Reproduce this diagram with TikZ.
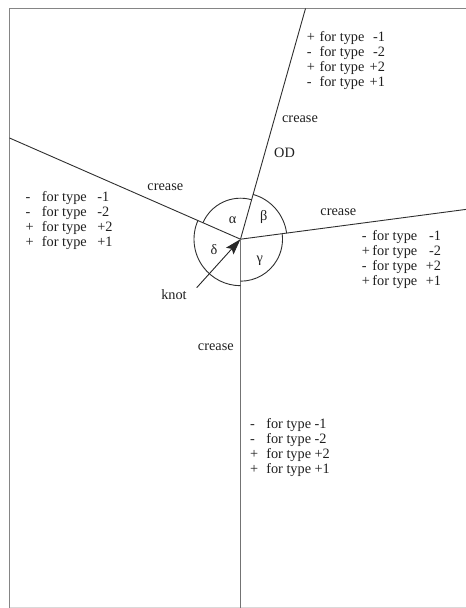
\documentclass[tikz,border=0pt]{standalone}
\usepackage{fontspec}
\setmainfont{Liberation Serif}
\usetikzlibrary{arrows.meta}
\begin{document}
\begin{tikzpicture}[x=1pt,y=1pt,
  framel/.style={draw=black!48, line width=1.5pt},
  creaseln/.style={draw=black!82, line width=0.9pt},
  downln/.style={draw=black!55, line width=1.4pt},
  arcln/.style={draw=black!82, line width=0.9pt},
  lbl/.style={inner sep=0pt, text=black!88, font=\fontsize{14.3}{15}\selectfont},
  blk/.style={inner sep=0pt, anchor=base west, text=black!88, font=\fontsize{14.3}{15}\selectfont},
  knotarrow/.style={draw=black!85, line width=0.9pt, -{Stealth[length=16pt,width=10pt,inset=3pt]}}
]
\useasboundingbox (0,0) rectangle (466,608);
% frame
\coordinate (fTL) at (9.5,599.5);
\coordinate (fTR) at (472,599.5);
\coordinate (fBL) at (9.5,-3);
\coordinate (fBR) at (472,0.6);
\coordinate (fBL2) at (9.5,0.6);
\draw[framel] (fBL) -- (fTL) -- (fTR);
\draw[draw=black!15, line width=1pt] (fBL2) -- (fBR);
% knot and crease ends
\coordinate (K) at (240.5,368.8);
\coordinate (odEnd) at (305.5,599.5);
\coordinate (leftEnd) at (9.5,470.0);
\coordinate (rightEnd) at (472,399.4);
\coordinate (downEnd) at (240.5,-3);
\draw[creaseln] (K) -- (odEnd);
\draw[creaseln] (K) -- (leftEnd);
\draw[creaseln] (K) -- (rightEnd);
\draw[downln] (K) -- (downEnd);
% arcs
\draw[arcln] ([shift={(74.2:41)}]K) arc[start angle=74.2, end angle=156.4, radius=41];
\draw[arcln] ([shift={(7.6:46.5)}]K) arc[start angle=7.6, end angle=74.2, radius=46.5];
\draw[arcln] ([shift={(-90:42)}]K) arc[start angle=-90, end angle=7.6, radius=42];
\draw[arcln] ([shift={(156.4:46.5)}]K) arc[start angle=156.4, end angle=270, radius=46.5];
% greek labels
\node[lbl] (alpha) at (232.7,388) {α};
\node[lbl] (beta) at (263.7,390.7) {β};
\node[lbl] (gamma) at (259.7,347) {γ};
\node[lbl] (delta) at (214,358.7) {δ};
% knot arrow
\node[lbl] (knotlbl) at (174,313) {knot};
\coordinate (kstart) at (196.7,320.3);
\draw[knotarrow] (kstart) -- (K);
% crease labels
\node[lbl] (cOD) at (300,489) {crease};
\node[lbl] (OD) at (284.5,455.6) {OD};
\node[lbl] (cLeft) at (165.3,421) {crease};
\node[lbl] (cRight) at (338.3,395.3) {crease};
\node[lbl] (cDown) at (215.8,260.3) {crease};
% sign blocks
\node[blk] (bTR) at (306.7,566.2) {\begin{tabular}[t]{@{}l@{\hspace{4.6pt}}l@{\hspace{5.3pt}}r@{}}
+ & for type & -1\\
- & for type & -2\\
+ & for type & +2\\
- & for type & +1
\end{tabular}};
\node[blk] (bR) at (361.7,367.8) {\begin{tabular}[t]{@{}l@{\hspace{2.5pt}}l@{\hspace{8.5pt}}r@{}}
- & for type & -1\\
+ & for type & -2\\
- & for type & +2\\
+ & for type & +1
\end{tabular}};
\node[blk] (bL) at (25.5,406.5) {\begin{tabular}[t]{@{}l@{\hspace{8.2pt}}l@{\hspace{10.6pt}}l@{}}
- & for type & -1\\
- & for type & -2\\
+ & for type & +2\\
+ & for type & +1
\end{tabular}};
\node[blk] (bD) at (250,179.5) {\begin{tabular}[t]{@{}l@{\hspace{8pt}}l@{\hspace{3.5pt}}l@{}}
- & for type & -1\\
- & for type & -2\\
+ & for type & +2\\
+ & for type & +1
\end{tabular}};
\end{tikzpicture}
\end{document}
